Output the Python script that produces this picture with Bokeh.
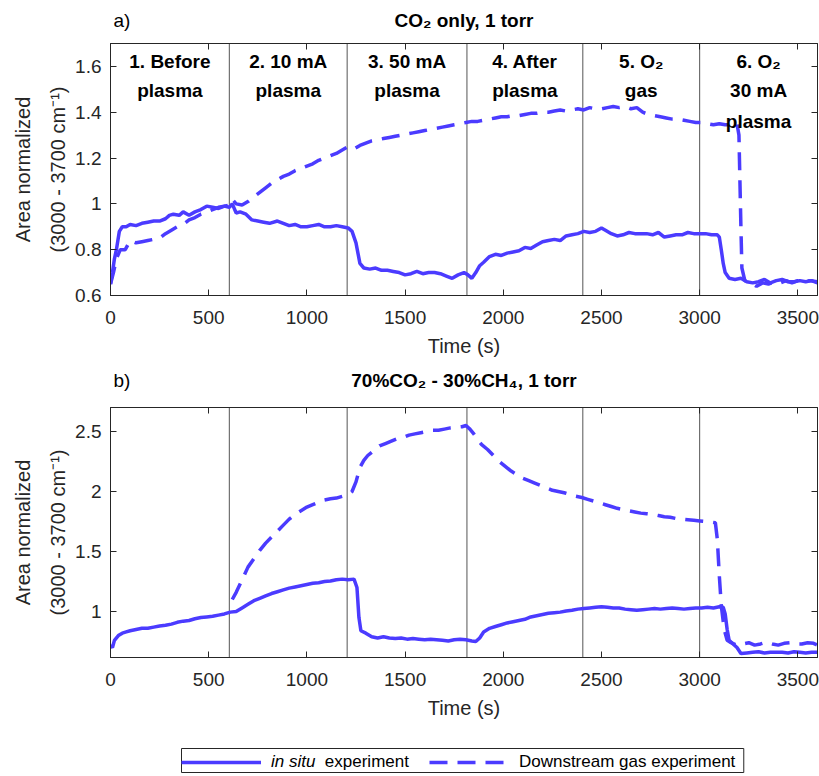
from bokeh.plotting import figure
from bokeh.models import (ColumnDataSource, Span, LinearAxis, FixedTicker, CustomJSTickFormatter,
                          Legend, LegendItem, Range1d, BoxAnnotation)
from bokeh.layouts import column
from bokeh.embed import file_html
from bokeh.resources import INLINE
from bokeh.core.properties import value

FONT = "Liberation Sans"
BLUE = "#4b3bff"
AX = "#262626"

# ---------------- data ----------------
PANELS = ["a)", "b)"]
TITLES = ["CO\u2082 only, 1 torr", "70%CO\u2082 - 30%CH\u2084, 1 torr"]
Y_LABEL = "Area normalized\n(3000 - 3700 cm\u207b\u00b9)"
X_LABEL = "Time (s)"
LEGEND_LABELS = [["in situ", "experiment"], ["Downstream gas experiment"]]

X_TICKS = [0, 500, 1000, 1500, 2000, 2500, 3000, 3500]
Y_TICKS_A = [0.6, 0.8, 1.0, 1.2, 1.4, 1.6]
Y_TICKS_B = [1.0, 1.5, 2.0, 2.5]

PHASE_BOUNDS = [0, 605, 1205, 1815, 2405, 3000, 3600]
PHASE_LINES = [["1. Before", "plasma"], ["2. 10 mA", "plasma"], ["3. 50 mA", "plasma"],
               ["4. After", "plasma"], ["5. O\u2082", "gas"], ["6. O\u2082", "30 mA", "plasma"]]

TOP_T_SOLID = [0, 10, 20, 30, 45, 60, 80, 100, 130, 160,
               190, 220, 250, 280, 300, 320, 350, 370, 400, 430,
               460, 490, 520, 550, 580, 605, 620, 640, 660, 690,
               720, 750, 780, 810, 850, 880, 910, 940, 970, 1000,
               1030, 1060, 1090, 1120, 1150, 1180, 1210, 1230, 1250, 1270,
               1290, 1320, 1350, 1380, 1410, 1440, 1470, 1500, 1530, 1560,
               1590, 1620, 1650, 1680, 1710, 1740, 1770, 1800, 1820, 1840,
               1860, 1880, 1900, 1930, 1960, 1990, 2020, 2050, 2080, 2110,
               2140, 2170, 2200, 2230, 2260, 2290, 2320, 2350, 2380, 2410,
               2440, 2470, 2500, 2520, 2550, 2580, 2610, 2640, 2670, 2700,
               2730, 2760, 2790, 2820, 2850, 2880, 2910, 2940, 2970, 3000,
               3030, 3060, 3090, 3100, 3110, 3120, 3130, 3150, 3180, 3210,
               3240, 3270, 3300, 3330, 3360, 3390, 3420, 3450, 3480, 3510,
               3540, 3570, 3600]
TOP_V_SOLID = [0.65, 0.70, 0.76, 0.80, 0.88, 0.90, 0.90, 0.91, 0.905, 0.915,
               0.92, 0.925, 0.925, 0.935, 0.95, 0.955, 0.95, 0.965, 0.95, 0.965,
               0.975, 0.99, 0.985, 0.98, 0.99, 0.985, 1.0, 0.96, 0.965, 0.955,
               0.93, 0.925, 0.92, 0.915, 0.925, 0.915, 0.905, 0.91, 0.90, 0.90,
               0.905, 0.91, 0.90, 0.90, 0.905, 0.90, 0.895, 0.88, 0.83, 0.74,
               0.72, 0.715, 0.72, 0.71, 0.71, 0.705, 0.70, 0.69, 0.695, 0.705,
               0.695, 0.70, 0.70, 0.695, 0.685, 0.675, 0.69, 0.70, 0.69, 0.675,
               0.70, 0.73, 0.745, 0.77, 0.78, 0.775, 0.785, 0.79, 0.795, 0.81,
               0.805, 0.82, 0.835, 0.84, 0.845, 0.84, 0.86, 0.865, 0.87, 0.88,
               0.875, 0.88, 0.895, 0.885, 0.87, 0.86, 0.865, 0.875, 0.87, 0.87,
               0.87, 0.865, 0.875, 0.855, 0.86, 0.865, 0.865, 0.875, 0.87, 0.87,
               0.87, 0.865, 0.865, 0.855, 0.80, 0.74, 0.70, 0.675, 0.67, 0.675,
               0.66, 0.655, 0.66, 0.67, 0.655, 0.665, 0.67, 0.66, 0.66, 0.665,
               0.66, 0.665, 0.655]

TOP_T_DASH = [0, 15, 30, 50, 75, 100, 130, 160, 190, 220,
              250, 280, 310, 340, 370, 400, 430, 460, 490, 520,
              550, 580, 605, 620, 640, 670, 700, 730, 760, 790,
              820, 850, 880, 910, 940, 970, 1000, 1030, 1060, 1090,
              1120, 1150, 1180, 1210, 1240, 1270, 1300, 1330, 1360, 1390,
              1420, 1450, 1480, 1510, 1540, 1570, 1600, 1630, 1660, 1690,
              1720, 1750, 1780, 1810, 1840, 1870, 1900, 1930, 1960, 1990,
              2020, 2050, 2080, 2110, 2140, 2170, 2200, 2230, 2260, 2290,
              2320, 2350, 2380, 2410, 2440, 2470, 2500, 2530, 2560, 2590,
              2620, 2650, 2680, 2710, 2740, 2770, 2800, 2830, 2860, 2890,
              2920, 2950, 2980, 3010, 3040, 3070, 3100, 3130, 3160, 3190,
              3200, 3205, 3210, 3215, 3230, 3260, 3290, 3320, 3350, 3380,
              3410, 3440, 3470, 3500, 3530, 3560, 3600]
TOP_V_DASH = [0.65, 0.70, 0.76, 0.80, 0.80, 0.84, 0.83, 0.835, 0.84, 0.845,
              0.85, 0.87, 0.885, 0.90, 0.91, 0.93, 0.94, 0.955, 0.965, 0.975,
              0.985, 0.99, 0.995, 1.02, 1.0, 0.995, 1.01, 1.03, 1.05, 1.07,
              1.09, 1.105, 1.12, 1.13, 1.145, 1.155, 1.165, 1.175, 1.19, 1.20,
              1.21, 1.22, 1.235, 1.25, 1.24, 1.255, 1.265, 1.275, 1.28, 1.285,
              1.29, 1.295, 1.30, 1.305, 1.31, 1.315, 1.32, 1.325, 1.33, 1.335,
              1.34, 1.345, 1.35, 1.355, 1.36, 1.36, 1.365, 1.37, 1.375, 1.38,
              1.38, 1.385, 1.385, 1.39, 1.395, 1.395, 1.40, 1.40, 1.405, 1.41,
              1.405, 1.41, 1.415, 1.41, 1.42, 1.415, 1.415, 1.42, 1.425, 1.42,
              1.425, 1.415, 1.42, 1.40, 1.39, 1.385, 1.38, 1.375, 1.37, 1.37,
              1.365, 1.36, 1.355, 1.355, 1.35, 1.345, 1.35, 1.345, 1.345, 1.35,
              1.30, 1.10, 0.90, 0.72, 0.665, 0.655, 0.64, 0.655, 0.65, 0.66,
              0.655, 0.665, 0.655, 0.665, 0.66, 0.665, 0.66]

BOT_T_SOLID = [0, 10, 20, 40, 60, 80, 100, 130, 160, 190,
               220, 250, 280, 310, 340, 370, 400, 430, 460, 490,
               520, 550, 580, 610, 640, 670, 700, 730, 760, 790,
               820, 850, 880, 910, 940, 970, 1000, 1030, 1060, 1090,
               1120, 1150, 1180, 1210, 1240, 1255, 1265, 1275, 1300, 1330,
               1360, 1390, 1420, 1450, 1480, 1510, 1540, 1570, 1600, 1630,
               1660, 1690, 1720, 1750, 1780, 1810, 1840, 1860, 1880, 1900,
               1930, 1960, 1990, 2020, 2050, 2080, 2110, 2140, 2170, 2200,
               2230, 2260, 2290, 2320, 2350, 2380, 2410, 2440, 2470, 2500,
               2530, 2560, 2590, 2620, 2650, 2680, 2710, 2740, 2770, 2800,
               2830, 2860, 2890, 2920, 2950, 2980, 3010, 3040, 3070, 3100,
               3120, 3130, 3140, 3150, 3170, 3190, 3210, 3240, 3270, 3300,
               3330, 3360, 3390, 3420, 3450, 3480, 3510, 3540, 3570, 3600]
BOT_V_SOLID = [0.72, 0.70, 0.76, 0.80, 0.82, 0.83, 0.84, 0.85, 0.86, 0.86,
               0.87, 0.88, 0.885, 0.895, 0.91, 0.92, 0.925, 0.94, 0.95, 0.955,
               0.96, 0.97, 0.98, 0.995, 1.0, 1.03, 1.06, 1.09, 1.11, 1.13,
               1.15, 1.165, 1.18, 1.195, 1.205, 1.215, 1.225, 1.235, 1.24, 1.25,
               1.255, 1.265, 1.27, 1.265, 1.27, 1.20, 0.95, 0.84, 0.82, 0.79,
               0.78, 0.79, 0.78, 0.775, 0.78, 0.77, 0.775, 0.77, 0.765, 0.77,
               0.765, 0.76, 0.755, 0.765, 0.77, 0.765, 0.755, 0.75, 0.78, 0.83,
               0.86, 0.875, 0.89, 0.905, 0.915, 0.925, 0.935, 0.955, 0.965, 0.975,
               0.985, 0.99, 0.995, 1.005, 1.01, 1.02, 1.025, 1.03, 1.035, 1.04,
               1.035, 1.03, 1.03, 1.02, 1.015, 1.01, 1.015, 1.02, 1.025, 1.02,
               1.025, 1.03, 1.025, 1.02, 1.025, 1.03, 1.03, 1.035, 1.03, 1.04,
               1.035, 0.98, 0.85, 0.76, 0.73, 0.70, 0.65, 0.655, 0.66, 0.665,
               0.655, 0.66, 0.66, 0.66, 0.655, 0.665, 0.66, 0.655, 0.66, 0.66]

BOT_T_DASH = [620, 640, 660, 680, 700, 730, 760, 790, 820, 850,
              880, 910, 940, 970, 1000, 1030, 1060, 1090, 1120, 1150,
              1180, 1210, 1230, 1250, 1270, 1290, 1310, 1340, 1370, 1400,
              1430, 1460, 1490, 1520, 1550, 1580, 1610, 1640, 1670, 1700,
              1730, 1760, 1790, 1810, 1830, 1850, 1870, 1890, 1920, 1950,
              1980, 2010, 2040, 2070, 2100, 2130, 2160, 2190, 2220, 2250,
              2280, 2310, 2340, 2370, 2400, 2430, 2460, 2490, 2520, 2550,
              2580, 2610, 2640, 2670, 2700, 2730, 2760, 2790, 2820, 2850,
              2880, 2910, 2940, 2970, 3000, 3030, 3060, 3080, 3090, 3100,
              3110, 3125, 3140, 3160, 3190, 3220, 3250, 3280, 3310, 3340,
              3370, 3400, 3430, 3460, 3490, 3520, 3550, 3580, 3600]
BOT_V_DASH = [1.10, 1.16, 1.23, 1.30, 1.37, 1.44, 1.51, 1.57, 1.62, 1.67,
              1.72, 1.77, 1.81, 1.84, 1.87, 1.89, 1.91, 1.93, 1.94, 1.945,
              1.96, 1.975, 2.0, 2.08, 2.20, 2.26, 2.30, 2.34, 2.38, 2.40,
              2.42, 2.44, 2.45, 2.47, 2.48, 2.49, 2.50, 2.51, 2.51, 2.52,
              2.53, 2.535, 2.54, 2.55, 2.52, 2.48, 2.43, 2.39, 2.35, 2.30,
              2.25, 2.21, 2.17, 2.14, 2.11, 2.09, 2.07, 2.05, 2.03, 2.01,
              2.00, 1.99, 1.975, 1.96, 1.95, 1.935, 1.92, 1.905, 1.89, 1.875,
              1.86, 1.85, 1.84, 1.83, 1.82, 1.815, 1.81, 1.80, 1.79, 1.785,
              1.775, 1.77, 1.765, 1.76, 1.755, 1.75, 1.745, 1.74, 1.60, 1.30,
              1.05, 0.85, 0.76, 0.74, 0.72, 0.73, 0.74, 0.72, 0.73, 0.745,
              0.73, 0.72, 0.735, 0.74, 0.73, 0.73, 0.74, 0.735, 0.72]

# ---------------- layout / style ----------------
W = 819
B_LEFT = 110
B_RIGHT = 2
X_RANGE = Range1d(0, 3600)


def blank_fig(height, x_range, y_range):
    f = figure(width=W, height=height, output_backend="svg", toolbar_location=None,
               x_range=x_range, y_range=y_range,
               min_border_left=B_LEFT, min_border_right=B_RIGHT, min_border_top=0, min_border_bottom=0,
               x_axis_location=None, y_axis_location=None, outline_line_color=None,
               background_fill_color="white", border_fill_color="white")
    f.xgrid.visible = False
    f.ygrid.visible = False
    return f


def make_header(height, panel, title, ty):
    h = blank_fig(height, X_RANGE, Range1d(0, 1))
    h.text(x=[0], y=[ty], text=[panel], x_offset=3, text_font=value(FONT), text_font_size="19px",
           text_align="left", text_baseline="middle", text_color="black")
    h.text(x=[(X_RANGE.start + X_RANGE.end) / 2], y=[ty], text=[title], text_font=value(FONT),
           text_font_size="19px", text_font_style="bold", text_align="center",
           text_baseline="middle", text_color="black")
    return h


def make_fig(height, b_top, b_bottom, yrange, yticks):
    p = figure(width=W, height=height, output_backend="svg", toolbar_location=None,
               x_range=X_RANGE, y_range=Range1d(*yrange),
               min_border_left=B_LEFT, min_border_right=B_RIGHT,
               min_border_top=b_top, min_border_bottom=b_bottom,
               background_fill_color="white", border_fill_color="white")
    p.xgrid.visible = False
    p.ygrid.visible = False
    p.outline_line_color = AX
    p.outline_line_width = 1
    for ax in (p.xaxis[0], p.yaxis[0]):
        ax.major_tick_in = 6
        ax.major_tick_out = 0
        ax.minor_tick_line_color = None
        ax.axis_line_color = AX
        ax.major_tick_line_color = AX
        ax.major_label_text_font = FONT
        ax.major_label_text_font_size = "19px"
        ax.major_label_text_color = AX
        ax.axis_label_text_font = FONT
        ax.axis_label_text_font_size = "20px"
        ax.axis_label_text_font_style = "normal"
        ax.axis_label_text_color = AX
    p.xaxis.ticker = FixedTicker(ticks=X_TICKS)
    p.yaxis.ticker = FixedTicker(ticks=yticks)
    p.yaxis.formatter = CustomJSTickFormatter(code="return String(tick);")
    p.xaxis.axis_label = X_LABEL
    p.yaxis.axis_label = Y_LABEL
    p.yaxis.axis_label_text_line_height = 1.6
    p.xaxis.major_label_standoff = 15
    p.xaxis.axis_label_standoff = 8
    p.yaxis.major_label_standoff = 9
    p.yaxis.axis_label_standoff = 3

    # mirrored ticks (box on)
    for loc, ticks in (("right", yticks), ("above", X_TICKS)):
        ax = LinearAxis(ticker=FixedTicker(ticks=ticks),
                        formatter=CustomJSTickFormatter(code="return '';"),
                        major_tick_in=6, major_tick_out=0, minor_tick_line_color=None,
                        axis_line_color=AX, major_tick_line_color=AX,
                        major_label_text_font_size="0px", major_label_standoff=0)
        p.add_layout(ax, loc)

    for b in PHASE_BOUNDS[1:-1]:
        s = Span(location=b, dimension="height", line_color="#555555", line_width=1)
        s.level = "underlay"
        p.add_layout(s)
    return p


# ---- panel a ----
h1 = make_header(36, PANELS[0], TITLES[0], 0.45)
p1 = make_fig(330, 7, 71, (0.6, 1.7), Y_TICKS_A)
p1.line(TOP_T_SOLID, TOP_V_SOLID, line_color=BLUE, line_width=3.5)
p1.line(TOP_T_DASH, TOP_V_DASH, line_color=BLUE, line_width=3.5, line_dash="18 10")

LINE_Y = [1.622, 1.493, 1.36]
lx, ly, lt = [], [], []
for i, lines in enumerate(PHASE_LINES):
    mid = (PHASE_BOUNDS[i] + PHASE_BOUNDS[i + 1]) / 2
    for j, txt in enumerate(lines):
        lx.append(mid)
        ly.append(LINE_Y[j])
        lt.append(txt)
p1.text(x="x", y="y", text="text", source=ColumnDataSource(dict(x=lx, y=ly, text=lt)),
        text_font=value(FONT), text_font_style="bold", text_font_size="19px",
        text_align="center", text_baseline="middle", text_color="black")

# ---- panel b ----
h2 = make_header(30, PANELS[1], TITLES[1], 0.53)
p2 = make_fig(339, 11, 78, (0.617, 2.7), Y_TICKS_B)
p2.line(BOT_T_SOLID, BOT_V_SOLID, line_color=BLUE, line_width=3.5)
p2.line(BOT_T_DASH, BOT_V_DASH, line_color=BLUE, line_width=3.5, line_dash="18 10")

# ---- legend strip (series re-drawn out of view, only their legend glyphs show) ----
lg = blank_fig(41, Range1d(0, 3600), Range1d(-2, -1))
g_solid = lg.line(BOT_T_SOLID, BOT_V_SOLID, line_color=BLUE, line_width=3.5)
g_dash = lg.line(BOT_T_DASH, BOT_V_DASH, line_color=BLUE, line_width=3.5, line_dash="18 10")
g_none = lg.line(BOT_T_SOLID, BOT_V_SOLID, line_alpha=0)

FS = 17            # legend font size (px)
PAD = 4
GW = 80
STAND = 10
GAP = 20
X0 = 71            # legend box left edge, relative to the plot frame
Y0 = 4
w_insitu = 2.612 * FS      # advance width of "in situ" (Arial metrics)
w_exp = 4.946 * FS         # "experiment"
w_down = 12.726 * FS       # "Downstream gas experiment"
w_space = 0.278 * FS

common = dict(orientation="horizontal", label_text_font=FONT, label_text_font_size=f"{FS}px",
              label_text_color="black", glyph_height=16, label_height=16, padding=PAD, margin=0,
              border_line_color=None, background_fill_alpha=0.0)

leg1 = Legend(items=[LegendItem(label=LEGEND_LABELS[0][0], renderers=[g_solid])],
              location=(X0, Y0), glyph_width=GW, label_standoff=STAND,
              label_text_font_style="italic", **common)
x2 = X0 + PAD + GW + STAND + w_insitu + 2 * w_space - PAD
leg2 = Legend(items=[LegendItem(label=LEGEND_LABELS[0][1], renderers=[g_none])],
              location=(x2, Y0), glyph_width=0, label_standoff=0, **common)
x3 = x2 + PAD + w_exp + GAP - PAD
leg3 = Legend(items=[LegendItem(label=LEGEND_LABELS[1][0], renderers=[g_dash])],
              location=(x3, Y0), glyph_width=GW, label_standoff=STAND, **common)
x_end = x3 + PAD + GW + STAND + w_down + PAD
frame_box = BoxAnnotation(left=X0, right=x_end, bottom=Y0, top=Y0 + 16 + 2 * PAD,
                          left_units="screen", right_units="screen",
                          bottom_units="screen", top_units="screen",
                          fill_alpha=0, fill_color=None, line_color=AX, line_width=1,
                          line_alpha=1)
lg.add_layout(frame_box)
for lgd in (leg1, leg2, leg3):
    lg.add_layout(lgd)

layout = column(h1, p1, h2, p2, lg, spacing=0)
open("out.html", "w").write(file_html(layout, INLINE))
